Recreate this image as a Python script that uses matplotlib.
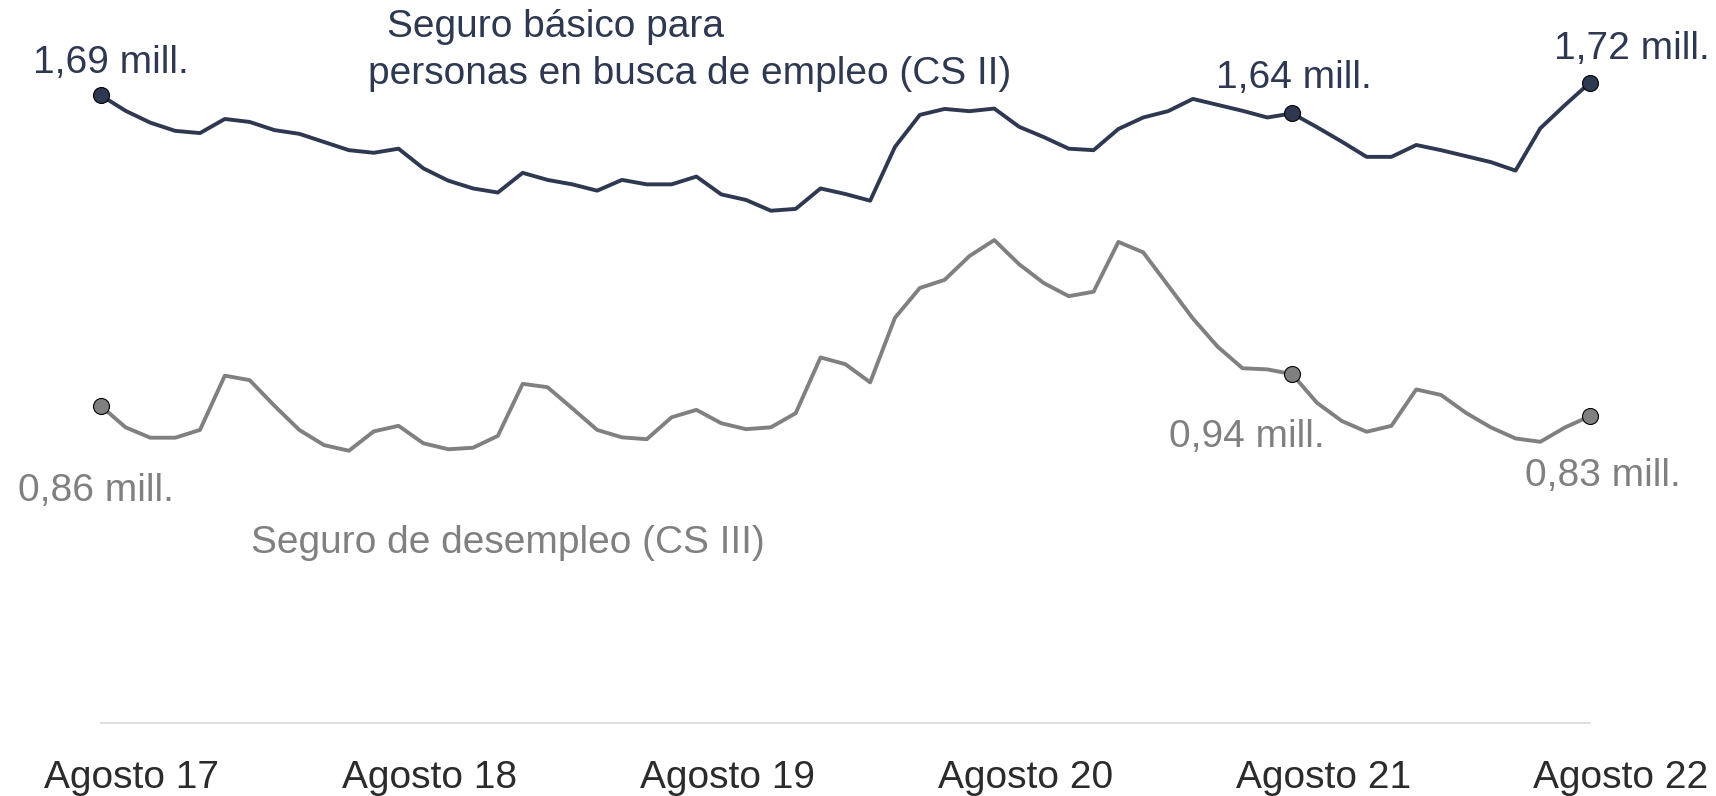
import matplotlib.pyplot as plt
from matplotlib.transforms import ScaledTranslation

plt.rcParams['font.family'] = ['Liberation Sans', 'DejaVu Sans']

# monthly series, agosto 2017 .. agosto 2022 (millones de personas)
months = list(range(61))
tick_pos = [0, 12, 24, 36, 48, 60]
tick_labels = ["Agosto 17", "Agosto 18", "Agosto 19", "Agosto 20", "Agosto 21", "Agosto 22"]

cs2 = [1.691, 1.649, 1.617, 1.595, 1.589, 1.627, 1.619, 1.597, 1.587, 1.565,
       1.543, 1.536, 1.547, 1.494, 1.461, 1.440, 1.429, 1.482, 1.463, 1.451,
       1.434, 1.463, 1.451, 1.451, 1.472, 1.424, 1.409, 1.380, 1.385, 1.440,
       1.425, 1.407, 1.552, 1.638, 1.654, 1.648, 1.655, 1.606, 1.578, 1.547,
       1.543, 1.600, 1.631, 1.648, 1.681, 1.665, 1.649, 1.631, 1.642, 1.605,
       1.566, 1.525, 1.525, 1.557, 1.543, 1.527, 1.511, 1.488, 1.602, 1.665,
       1.725]

cs3 = [0.855, 0.797, 0.769, 0.769, 0.790, 0.936, 0.924, 0.855, 0.790, 0.749,
       0.734, 0.786, 0.801, 0.754, 0.738, 0.742, 0.774, 0.914, 0.905, 0.848,
       0.790, 0.770, 0.765, 0.824, 0.844, 0.808, 0.792, 0.797, 0.835, 0.985,
       0.967, 0.918, 1.092, 1.172, 1.194, 1.258, 1.301, 1.236, 1.185, 1.150,
       1.162, 1.296, 1.268, 1.179, 1.090, 1.014, 0.956, 0.953, 0.940, 0.863,
       0.814, 0.785, 0.801, 0.899, 0.884, 0.836, 0.797, 0.767, 0.758, 0.797,
       0.827]

marked = [0, 48, 60]
cs2_labels = ["1,69 mill.", "1,64 mill.", "1,72 mill."]
cs3_labels = ["0,86 mill.", "0,94 mill.", "0,83 mill."]

navy = "#2e3850"
grey = "#808080"
W, H = 1716, 796

fig = plt.figure(figsize=(W / 100, H / 100), dpi=100)
ax = fig.add_axes([100.7 / W, (H - 723.4) / H, (1590 - 100.7) / W, 723.4 / H])
ax.set_xlim(0, 60)
ax.set_ylim(0, 723.4 / 371.5)

for vals, col in [(cs2, navy), (cs3, grey)]:
    ax.plot(months, vals, color=col, lw=2.8, clip_on=False, zorder=3)
    ax.plot(marked, [vals[i] for i in marked], 'o', ms=11.5, mfc=col,
            mec='black', mew=0.8, clip_on=False, zorder=4)

fs = 28
for i, lab, off in zip(marked, cs2_labels, [(10, 32), (2, 35), (42, 34)]):
    ax.annotate(lab, (i, cs2[i]), xytext=off, textcoords='offset pixels',
                ha='center', va='center', fontsize=fs, color=navy)
for i, lab, off in zip(marked, cs3_labels, [(-5, -85), (-45, -63), (13, -60)]):
    ax.annotate(lab, (i, cs3[i]), xytext=off, textcoords='offset pixels',
                ha='center', va='center', fontsize=fs, color=grey)

fig.text(387 / W, 1 - 27 / H, "Seguro básico para", fontsize=fs, color=navy,
         ha='left', va='center')
fig.text(368 / W, 1 - 74 / H, "personas en busca de empleo (CS II)", fontsize=fs,
         color=navy, ha='left', va='center')
fig.text(251 / W, 1 - 543 / H, "Seguro de desempleo (CS III)", fontsize=fs,
         color=grey, ha='left', va='center')

for s in ['top', 'right', 'left']:
    ax.spines[s].set_visible(False)
ax.spines['bottom'].set_color('#d9d9d9')
ax.spines['bottom'].set_linewidth(1.2)
ax.set_yticks([])
ax.set_xticks(tick_pos, tick_labels, fontsize=fs, color='#2b2b2b')
ax.tick_params(axis='x', length=0, pad=26)
for lbl in ax.get_xticklabels():
    lbl.set_transform(lbl.get_transform() + ScaledTranslation(0.31, 0, fig.dpi_scale_trans))
ax.patch.set_visible(False)

fig.savefig("out.png", dpi=100)
